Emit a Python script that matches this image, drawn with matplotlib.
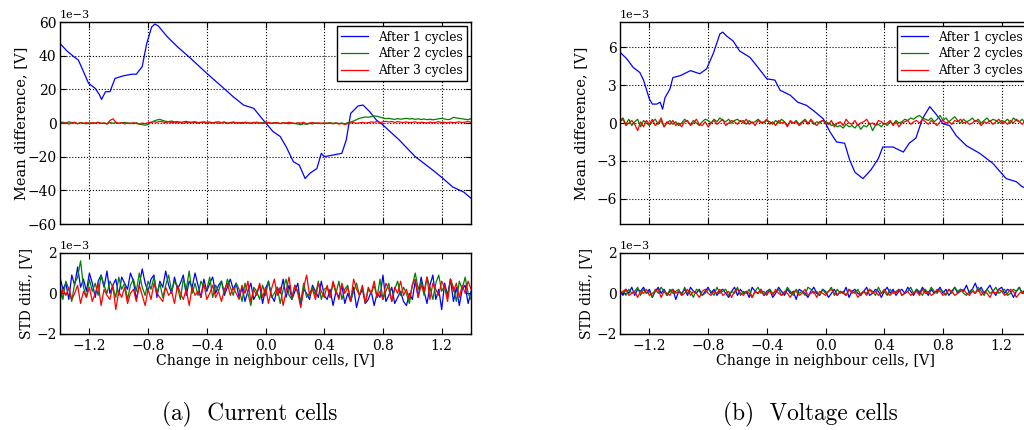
import numpy as np
import matplotlib
matplotlib.use("Agg")
import matplotlib.pyplot as plt

plt.rcParams.update({
    "font.family": ["DejaVu Serif"],
    "font.size": 9.8,
    "axes.linewidth": 1.0,
    "xtick.direction": "in",
    "ytick.direction": "in",
    "xtick.top": True,
    "ytick.right": True,
    "xtick.major.size": 4,
    "ytick.major.size": 4,
    "ytick.major.pad": 2.5,
    "xtick.labelsize": 10,
    "ytick.labelsize": 10,
    "axes.unicode_minus": True,
})

# sample positions of the change in neighbour cells [V]
x_grid = np.linspace(-1.4, 1.4, 141)
x_ticks = [-1.2, -0.8, -0.4, 0.0, 0.4, 0.8, 1.2]
labels = ["After 1 cycles", "After 2 cycles", "After 3 cycles"]
colors = ["b", "g", "r"]

# ---------------- current cells: mean difference [1e-3 V] ----------------
cur_mean_x1 = [-1.4, -1.355, -1.30, -1.275, -1.25, -1.205, -1.16, -1.13, -1.117, -1.09,
               -1.06, -1.025, -0.97, -0.91, -0.88, -0.84, -0.81, -0.776, -0.754, -0.73,
               -0.67, -0.60, -0.51, -0.40, -0.31, -0.22, -0.15, -0.08, -0.016, 0.0,
               0.05, 0.10, 0.14, 0.19, 0.23, 0.27, 0.30, 0.35, 0.38, 0.40,
               0.46, 0.52, 0.55, 0.58, 0.63, 0.664, 0.71, 0.755, 0.80, 0.91,
               1.02, 1.14, 1.21, 1.275, 1.35, 1.4]
cur_mean_1 = [47.3, 43, 39, 37.4, 32.5, 23.5, 20.6, 16.6, 14, 18.6,
              18.6, 26.5, 28, 29, 29, 33.5, 47, 57, 58.8, 57.6,
              51.3, 45.3, 38.4, 29.5, 22.6, 15.6, 10.7, 8.7, 1.8, 0.2,
              -5, -8, -14, -23, -25, -33, -30, -27, -18, -20,
              -19, -18, -10, 5.7, 10.1, 10.7, 6.7, 1.8, -1.2, -10,
              -20, -28, -33, -38, -41, -44.7]
# [1e-4 V]
cur_mean_2 = [3, 5, -2, 8, 2, 0, -4, 3, -1, -5,
              2, -3, 0, 4, -2, 1, -5, 3, -1, 2,
              -3, 1, 4, -2, 0, -4, 2, -6, -10, -13,
              -8, 3, 12, 18, 22, 15, 10, 8, 12, 6,
              9, 4, 7, 10, 3, 6, 8, 2, 5, 7,
              3, 6, 1, 4, 8, 2, 5, 0, 3, 6,
              2, -1, 4, 0, 3, -2, 1, 5, 0, 2,
              6, 1, -2, 3, 0, -3, 2, -1, -4, 0,
              -3, -6, -10, -4, -8, -2, -5, 1, -3, -1,
              -4, 0, 2, -2, 1, -3, 0, -6, 2, 6,
              12, 20, 28, 32, 36, 34, 38, 42, 40, 35,
              30, 26, 28, 24, 22, 26, 23, 25, 28, 24,
              26, 22, 25, 21, 24, 20, 23, 19, 22, 25,
              28, 24, 20, 23, 34, 30, 28, 25, 22, 20,
              26]
cur_mean_3 = [4, -3, 2, -6, 0, 5, -4, 1, -2, 3,
              -5, 2, -1, 4, -3, 0, -6, 15, 25, 6,
              -2, 3, -5, 1, -4, 2, -3, -6, 0, -4,
              2, 5, 8, 4, 10, 6, 3, 7, 2, 5,
              1, 4, -2, 3, 6, 0, 5, -1, 2, 4,
              -1, 3, 0, 5, -2, 2, 6, -3, 1, 4,
              0, 3, -2, 5, 1, -1, 4, 0, 2, -3,
              1, 4, -2, 0, 3, -4, 2, -1, 5, 0,
              -3, 2, -1, 4, -5, 0, 3, -2, 1, -4,
              2, -3, 0, -5, 1, -6, -2, -8, -4, 0,
              3, -2, 1, 4, 0, 2, 6, 5, 8, 3,
              7, 10, 6, 9, 4, 8, 5, 3, 6, 2,
              4, 7, 1, 5, 3, 0, 6, 2, 4, 8,
              3, 5, 1, 6, 2, 4, 7, 3, 5, 9,
              4]

# ---------------- current cells: STD difference [1e-4 V] ----------------
cur_std_1 = [8, 2, 5, -3, 9, 4, 13, 3, 7, 1,
             10, 5, -2, 6, 9, 3, 11, 0, 4, 7,
             -1, 8, 5, 2, 10, 6, -3, 4, 12, 5,
             1, 7, 9, -2, 6, 3, 11, 4, 0, 8,
             2, 5, 9, -1, 6, 3, 10, 4, -2, 7,
             1, 5, 8, 0, 4, 6, -1, 3, 7, 2,
             5, -2, 3, -4, 1, 5, -3, 0, 4, -5,
             2, 6, -1, -4, 3, 0, 7, -2, 4, -3,
             1, 5, -6, 2, 0, -3, 4, 1, -2, 6,
             -1, -3, 2, -6, 1, -2, 4, -5, 0, -4,
             3, -7, -1, 2, -5, -3, 1, -6, 0, -2,
             9, -4, -1, 3, -5, -2, 1, -4, -6, 0,
             -3, 6, -2, 8, 1, -5, 4, 9, -3, 2,
             -8, 5, -1, 7, -4, 3, -6, 2, 4, -5,
             1]
cur_std_2 = [4, -3, 6, 2, -4, 5, 8, 16, 3, -2,
             7, 1, 5, -1, 9, 4, 0, 6, 3, -2,
             8, 2, 5, -3, 4, 7, 1, 10, 3, -1,
             6, 2, 8, 0, 5, -2, 4, 9, 1, 6,
             3, -3, 7, 2, 11, 0, 5, -1, 6, 3,
             2, 8, -2, 4, 1, 6, 0, 7, 3, -1,
             5, 2, -4, 5, 0, -6, 3, 1, -3, 4,
             -1, 6, -2, 0, 3, -5, 2, 7, -1, -3,
             4, 1, -4, 5, -2, 0, 3, -1, 6, -3,
             2, 3, -2, 5, 0, 6, -3, 2, 4, -4,
             1, 5, -1, 3, -5, 2, 0, 4, -2, 7,
             -3, 1, 5, -4, 2, 6, -1, 3, 0, -5,
             4, 10, 2, 6, -1, 8, 3, -3, 5, 9,
             1, 4, -2, 7, 3, -4, 6, 2, 8, 0,
             -3]
cur_std_3 = [-4, 2, -1, 3, -3, 0, 4, -5, 1, -2,
             3, -4, 0, 5, -6, 2, -1, -3, 4, -8,
             1, -2, 3, -5, 0, 2, -4, 4, -1, -6,
             2, -3, 5, 0, -2, -4, 3, -1, 1, -5,
             4, 0, -3, 2, -6, 3, -1, 1, -2, 5,
             -3, 0, 4, -2, 1, -4, 2, 5, -1, 3,
             0, -3, 4, 0, 6, -4, 2, -1, 5, -2,
             3, -5, 2, 7, -1, 3, -6, 1, 8, -2,
             4, 0, -7, 3, 9, -1, 2, -3, 5, 1,
             -2, 4, -2, 6, 1, -3, 5, 0, 3, -4,
             7, 2, -1, 4, -5, 3, 0, 6, -2, 1,
             -3, 5, 2, -4, 3, 0, 6, -1, 2, -3,
             4, 7, -2, 4, 1, 8, -3, 5, 2, -1,
             6, 3, -4, 7, 1, 5, -2, 4, 0, 6,
             2]

# ---------------- voltage cells: mean difference [1e-3 V] ----------------
vol_mean_x1 = [-1.4, -1.355, -1.31, -1.265, -1.24, -1.2, -1.18, -1.15, -1.127, -1.11,
               -1.094, -1.06, -1.04, -0.99, -0.92, -0.856, -0.81, -0.765, -0.72, -0.70,
               -0.675, -0.63, -0.585, -0.515, -0.47, -0.40, -0.345, -0.31, -0.24, -0.19,
               -0.13, -0.084, -0.016, 0.03, 0.075, 0.13, 0.165, 0.2, 0.255, 0.31,
               0.36, 0.39, 0.46, 0.53, 0.57, 0.615, 0.66, 0.71, 0.75, 0.80,
               0.845, 0.89, 0.96, 1.05, 1.14, 1.23, 1.3, 1.34, 1.4]
vol_mean_1 = [5.6, 5.1, 4.4, 4.0, 3.4, 1.9, 1.5, 1.5, 1.65, 1.1,
              2.0, 2.7, 3.6, 3.75, 4.15, 3.9, 4.3, 5.5, 7.05, 7.2,
              6.9, 6.5, 5.7, 5.2, 4.55, 3.5, 3.4, 2.6, 2.2, 1.65,
              1.4, 1.0, 0.34, -0.7, -1.5, -1.6, -2.95, -3.9, -4.4, -3.7,
              -2.8, -1.9, -1.9, -2.3, -1.6, -1.2, 0.34, 1.3, 0.74, -0.05,
              -0.2, -1.0, -1.8, -2.4, -3.2, -4.4, -4.65, -5.05, -5.3]
# [1e-4 V]
vol_mean_2 = [2, 4, -1, 3, -2, 1, 3, -3, 2, 0,
              -2, 1, 3, -1, 2, -3, 0, 2, -1, 1,
              -2, 0, 3, 1, -1, 2, 0, -2, 1, 3,
              2, 0, 3, 1, 4, 2, 1, 3, 0, 2,
              3, 1, 2, -1, 2, 0, 1, 3, 1, 0,
              2, 1, -1, 2, 0, 3, 1, -2, 1, 0,
              2, -1, 1, 3, 0, 2, -1, 1, 0, 2,
              1, 0, -2, -1, -3, -2, -4, -1, -3, -2,
              -4, -1, -5, -2, -3, 0, -6, -2, -1, -3,
              0, -2, 1, -1, 2, 0, 1, 3, 2, 4,
              3, 5, 6, 4, 3, 2, 4, 1, 3, 6,
              2, 4, 1, 3, 5, 2, 0, 3, 1, 2,
              4, 1, 3, 0, 2, 4, 1, 3, 2, 0,
              2, 1, 3, 0, 4, 2, 1, 3, 0, 2,
              1]
vol_mean_3 = [1, 3, -2, 0, 2, -1, -6, 1, -3, 2,
              -1, 3, -2, 0, 4, -3, 1, -1, 2, -2,
              0, -3, 1, 2, -2, 0, 3, -1, -2, 1,
              -3, 0, 2, -1, 1, 3, -2, 0, 2, 1,
              -1, 2, 0, 3, -1, 1, -2, 2, 0, 1,
              3, -1, 1, -2, 2, 0, 1, -3, 2, 0,
              1, -2, 0, 2, -1, 3, 0, -2, 1, 2,
              0, -1, 2, -3, 0, 1, -2, 3, 0, -1,
              2, -2, 0, 1, 3, -1, 0, -2, 2, 1,
              -1, 0, 2, -2, 1, -3, 0, 1, 2, -1,
              1, 2, 0, 3, 1, -1, 2, 0, -2, 1,
              2, 0, 1, -1, 2, 1, 3, 0, 1, -1,
              0, 2, 1, -2, 1, 0, 2, -1, 1, 3,
              0, 1, -1, 2, 0, 3, 1, -1, 2, 0,
              2]

# ---------------- voltage cells: STD difference [1e-4 V] ----------------
vol_std_1 = [1, -1, 2, 0, 3, -1, 2, 1, 3, 0,
             2, -2, 1, 3, 0, 2, -1, 1, 2, -3,
             1, 0, 2, -1, 3, 1, 0, 2, -1, 1,
             3, 0, 2, -1, 1, 2, 0, -2, 1, 3,
             -1, 2, 0, 1, -2, 3, 1, 0, 2, -1,
             1, 2, -2, 0, 3, 1, -1, 2, 0, 1,
             -3, 2, 1, 0, -2, 1, 3, 0, -1, 2,
             1, -2, 0, 2, -1, 1, 0, 3, -2, 1,
             2, 0, -1, 1, 3, -1, 0, 2, 1, -2,
             1, 3, 0, 2, -1, 1, 2, 0, 3, 1,
             -1, 2, 0, 3, 1, -1, 2, 0, 1, 3,
             0, 2, -1, 1, 3, 0, 2, 1, 4, 0,
             2, 5, 1, 3, 0, 2, 4, 1, -1, 2,
             3, 0, 2, 1, -2, 1, 3, 0, 2, 1,
             0]
vol_std_2 = [0, 1, -1, 2, 0, 1, 3, -1, 2, 0,
             1, -2, 2, 0, 3, 1, -1, 2, 0, 1,
             2, -1, 3, 0, 1, -2, 2, 1, -1, 0,
             2, 1, -1, 3, 0, 1, 2, -1, 1, 0,
             3, -1, 1, 0, 2, -2, 1, 3, 0, 1,
             -1, 2, 0, 1, 2, -1, 0, 3, 1, -1,
             2, 0, 1, -1, 3, 2, 0, 1, -1, 2,
             0, 1, 3, -1, 2, 0, 1, -1, 2, 1,
             0, 2, -1, 1, 0, 2, 1, -1, 3, 0,
             1, -1, 2, 0, 1, 2, -1, 0, 1, 3,
             0, 2, 1, -1, 2, 0, 3, 1, 0, 2,
             1, -1, 2, 0, 3, 1, 2, 0, -1, 1,
             2, 0, 3, 1, -1, 2, 0, 1, 3, 0,
             1, 2, -1, 0, 2, 1, 3, 0, 1, -1,
             1]
vol_std_3 = [-1, 1, 2, -1, 0, 1, -2, 1, 0, 2,
             -1, 0, 1, 2, -2, 1, 0, -1, 2, 0,
             1, -1, 0, 2, -1, 1, 0, -2, 1, 2,
             0, -1, 1, 0, 2, -1, 0, 1, -2, 1,
             2, 0, -1, 1, 0, -2, 1, 0, 2, -1,
             0, 1, -1, 2, 0, -1, 1, 0, -2, 1,
             1, -1, 0, 2, -1, 0, 1, -2, 1, 0,
             -1, 1, 2, 0, -1, 1, 0, -1, 2, 0,
             1, -2, 0, 1, -1, 2, 0, 1, -1, 0,
             2, 0, -1, 1, 0, 2, -1, 0, 1, -1,
             0, 1, -1, 2, 0, 1, -1, 0, 2, 1,
             -1, 0, 2, 1, -1, 0, 1, 2, 0, -1,
             1, 0, 2, -1, 1, 0, -2, 1, 0, 2,
             1, -1, 0, 2, 1, -2, 0, 1, -1, 0,
             1]


def style_axes(ax, grid):
    ax.set_xlim(-1.4, 1.4)
    ax.set_xticks(x_ticks)
    ax.ticklabel_format(axis="y", style="sci", scilimits=(-3, -3))
    ax.yaxis.get_offset_text().set_fontsize(8)
    if grid:
        ax.grid(True, color="k", linestyle=":", linewidth=0.8)
    for side in ax.spines.values():
        side.set_color("k")


def draw_panel(left, mean_x1, mean_1, mean_2, mean_3, std_1, std_2, std_3,
               ylim, yticks, caption, caption_x):
    ax_top = fig.add_axes([left, 0.479, 0.4014, 0.4698])
    ax_bot = fig.add_axes([left, 0.2233, 0.4014, 0.189])

    ax_top.plot(mean_x1, np.array(mean_1) * 1e-3, color=colors[0], lw=0.9, label=labels[0])
    ax_top.plot(x_grid, np.array(mean_2) * 1e-4, color=colors[1], lw=0.9, label=labels[1])
    ax_top.plot(x_grid, np.array(mean_3) * 1e-4, color=colors[2], lw=0.9, label=labels[2])
    style_axes(ax_top, True)
    ax_top.set_ylim(ylim)
    ax_top.set_yticks(yticks)
    ax_top.tick_params(axis="x", labelbottom=False)
    ax_top.set_ylabel("Mean difference, [V]", fontsize=10.5)
    ax_top.yaxis.set_label_coords(-0.078, 0.5)
    leg = ax_top.legend(loc="upper right", fontsize=8.8, fancybox=False,
                        framealpha=1, edgecolor="k", handlelength=2.2,
                        borderaxespad=0.35, labelspacing=0.3,
                        borderpad=0.35)
    leg.get_frame().set_linewidth(1.0)

    for vals, c in zip([std_1, std_2, std_3], colors):
        ax_bot.plot(x_grid, np.array(vals) * 1e-4, color=c, lw=0.9)
    style_axes(ax_bot, False)
    ax_bot.set_ylim(-2e-3, 2e-3)
    ax_bot.set_yticks([-2e-3, 0, 2e-3])
    ax_bot.set_ylabel("STD diff., [V]", fontsize=10)
    ax_bot.yaxis.set_label_coords(-0.066, 0.5)
    ax_bot.set_xlabel("Change in neighbour cells, [V]", fontsize=10.2)
    ax_bot.xaxis.set_label_coords(0.5, -0.25)

    fig.text(caption_x, 1 - 414 / 430, caption, ha="center", va="center",
             fontsize=16.8, family=["cmr10", "DejaVu Serif"])


fig = plt.figure(figsize=(10.24, 4.30), dpi=100, facecolor="white")

draw_panel(0.0586, cur_mean_x1, cur_mean_1, cur_mean_2, cur_mean_3,
           cur_std_1, cur_std_2, cur_std_3,
           (-0.06, 0.06), [-0.06, -0.04, -0.02, 0, 0.02, 0.04, 0.06],
           "(a)  Current cells", 250 / 1024)
draw_panel(0.6055, vol_mean_x1, vol_mean_1, vol_mean_2, vol_mean_3,
           vol_std_1, vol_std_2, vol_std_3,
           (-0.008, 0.008), [-0.006, -0.003, 0, 0.003, 0.006],
           "(b)  Voltage cells", 810 / 1024)

fig.savefig("out.png", dpi=100, facecolor="white")
